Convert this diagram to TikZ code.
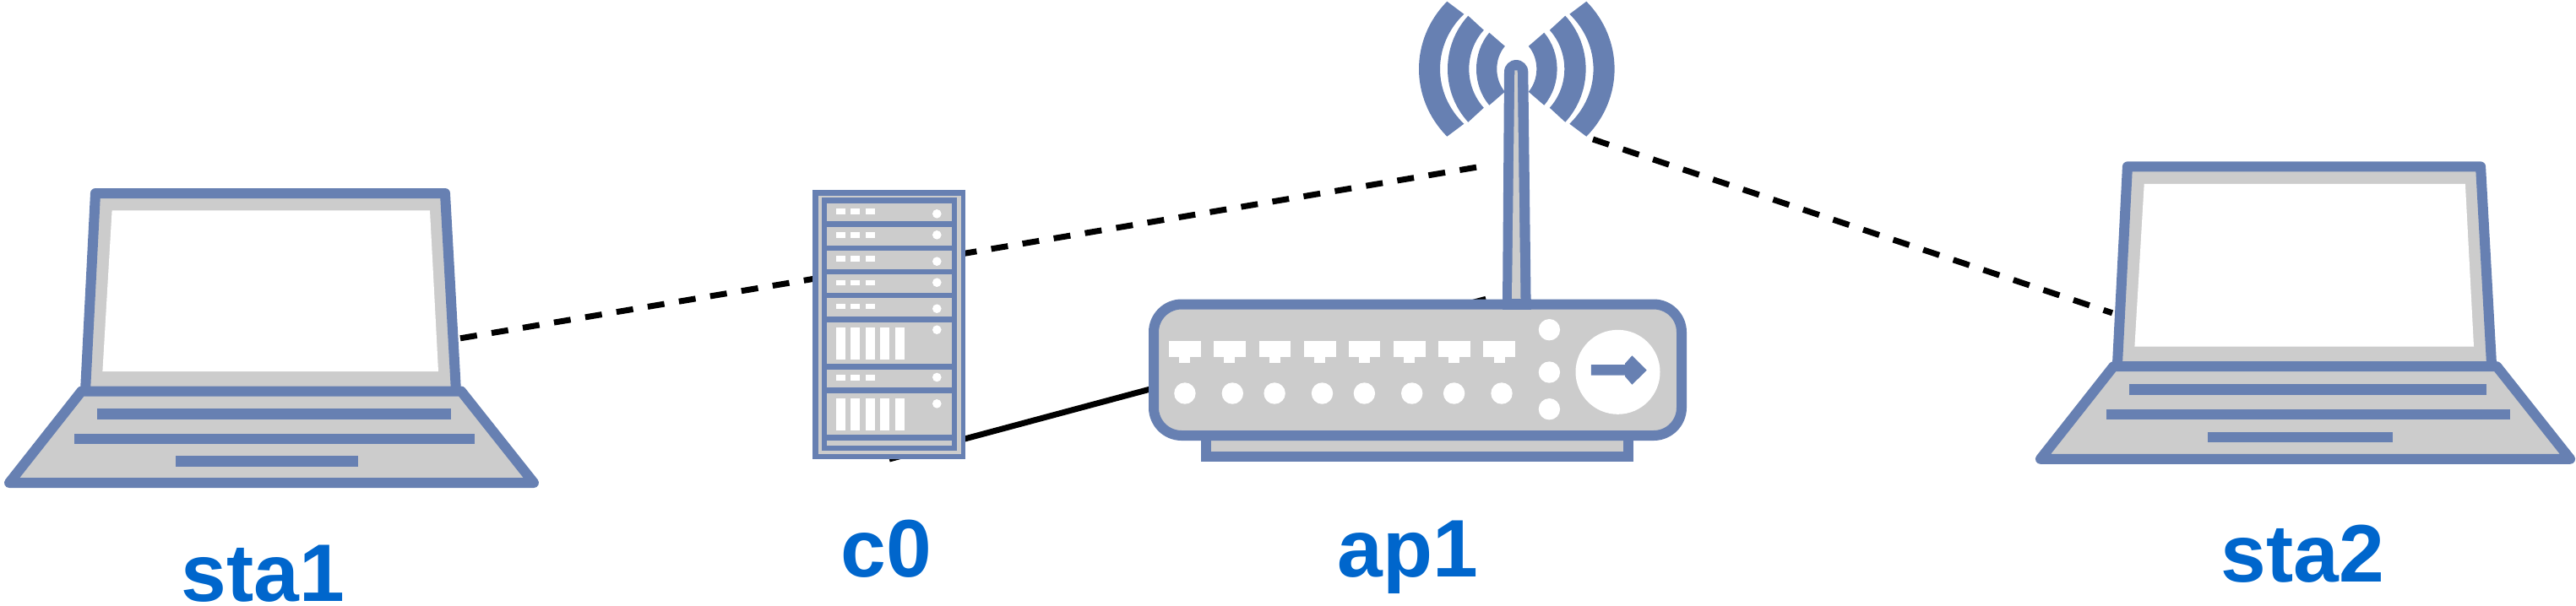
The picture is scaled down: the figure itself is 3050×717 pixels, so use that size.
\documentclass[tikz,border=0pt]{standalone}
\usepackage{fontspec}
\setsansfont{Liberation Sans}
\usetikzlibrary{positioning}
\definecolor{devblue}{HTML}{6780B2}
\definecolor{devgrey}{HTML}{CCCCCC}
\definecolor{namecolor}{HTML}{0066CC}

\tikzset{
	laptop/.pic={
		\draw[shell] (-207,-111.5) -- (207,-111.5) -- (220,123.5) -- (-219,123.5) -- cycle;
		\fill[white] (-187.4,-91.2) -- (189,-91.2) -- (199,99.5) -- (-198.6,99.5) -- cycle;
		\draw[shell] (-223.5,123) -- (226,123) -- (312,231.5) -- (-309,231.5) -- cycle;
		\fill[devblue] (-205,143.5) rectangle (214,156);
		\fill[devblue] (-232,173.5) rectangle (242,185.5);
		\fill[devblue] (-112.4,199.5) rectangle (103.7,212.2);
	},
}

\begin{document}
\begin{tikzpicture}
	[
		x=0.1mm,y=-0.1mm,
		font={\sffamily},
		device/.style={rectangle,inner sep=0,outer sep=0},
		shell/.style={draw=devblue,fill=devgrey,line width=1.2mm,line join=round},
		link/.style={black,line width=0.7mm},
		wifi/.style={link,dash pattern=on 2mm off 1.75mm},
		devname/.style={anchor=base,inner sep=0,text=namecolor,font={\fontsize{27.5}{30}\selectfont\sffamily\bfseries}},
		dot/.style={white},
		panel/.style={devgrey},
	]
	\useasboundingbox (0,0) rectangle (3050,717);

	\node[device,minimum width=45mm,minimum height=23.5mm] (sta1) at (320,340.5) {};
	\node[device,minimum width=18.1mm,minimum height=31.9mm] (c0) at (1052.8,384.5) {};
	\node[device,minimum width=63.75mm,minimum height=16.8mm] (ap1) at (1678.2,438.3) {};
	\node[device,minimum width=45.4mm,minimum height=23.8mm] (sta2) at (2728,310) {};
	\coordinate (antL) at (1755,197);
	\coordinate (antR) at (1886,165);

	% links go first, the devices cover them
	\draw[wifi] (sta1.345) -- (antL);
	\draw[wifi] (antR) -- (sta2.195);
	\draw[link] (c0.south) -- (ap1.46);

	\pic at (sta1) {laptop};
	\pic[scale=1.01] at (sta2) {laptop};

	% rack
	\fill[devblue] (962.3,225) rectangle (1143.3,544);
	\fill[devgrey] (968.7,231.7) rectangle (1137.7,537.7);
	\fill[devblue] (973,234.3) rectangle (1133.3,534.3);
	\foreach \py/\dy in {240.7/253.3,269/278.3,297/309.7,325.3/334.7,353.3/365.7,437.7/447}{
		\fill[panel] (979.3,\py) rectangle +(147.4,21.6);
		\fill[dot] (1109.3,\dy) circle[radius=5.3];
		\foreach \sx in {990,1007.3,1025}
			\fill[dot] (\sx,\py+6.3) rectangle +(11,6.7);
	}
	\foreach \py/\dy in {381.7/390.7,465.7/478.3}{
		\fill[panel] (979.3,\py) rectangle +(147.4,49.5);
		\fill[dot] (1109.3,\dy) circle[radius=5.3];
		\foreach \sx in {990,1007.3,1025,1042.3,1060}
			\fill[dot] (\sx,\py+6) rectangle +(11,38);
	}
	\fill[panel] (979.3,522.3) rectangle (1126.7,528.3);

	% antenna
	\fill[devblue] (1781,85) .. controls (1781,77.2) and (1787.3,71) .. (1795.15,71) .. controls (1803,71) and (1809.3,77.2) .. (1809.3,85) -- (1812.7,366.7) -- (1779,366.7) -- cycle;
	\fill[devgrey] (1793.3,83.3) -- (1796.7,83.3) -- (1800.5,354) -- (1790,354) -- cycle;
	\begin{scope}[shift={(1795.8,81.7)}]
		\foreach \s in {-1,1}
			\foreach \ax/\ay/\cx/\cy/\bx/\by/\dx/\dy in {
				82.5/80/126.9/35/62.5/65/100.2/28.6,
				57.5/63/89.9/27.7/39/46/62.3/20,
				32.5/43/52.9/19/14/27/26.7/12}
				\fill[devblue] (\s*\ax,-\ay) .. controls (\s*\cx,-\cy) and (\s*\cx,\cy) .. (\s*\ax,\ay)
					-- (\s*\bx,\by) .. controls (\s*\dx,\dy) and (\s*\dx,-\dy) .. (\s*\bx,-\by) -- cycle;
	\end{scope}

	% access point
	\draw[shell,line join=miter] (1428,516) rectangle (1928,541);
	\draw[shell,rounded corners=3.3mm] (1366,360.5) rectangle (1991,516);
	\fill[devblue] (1779,354) rectangle (1812.7,366.7);
	\foreach \px in {1383.8,1437.1,1490.5,1543.8,1596.7,1650,1703,1756.3}{
		\fill[dot] (\px,404) rectangle +(37.7,19);
		\fill[dot] (\px+12.3,423) rectangle +(13,6.7);
	}
	\foreach \lx in {1402.9,1459.3,1509.1,1565.5,1615.4,1671.7,1721.6,1778}
		\fill[dot] (\lx,466) circle[radius=12.7];
	\foreach \ly in {390.7,441,484.7}
		\fill[dot] (1834.4,\ly) circle[radius=12.7];
	\fill[dot] (1915.5,440.8) circle[radius=50];
	\fill[devblue] (1883.8,432) -- (1924,432) -- (1924,430.7) -- (1932.4,421.3) -- (1949.7,438.7) -- (1932.4,455.7) -- (1924,446) -- (1924,444.7) -- (1883.8,444.7) -- cycle;

	\node[devname] (sta1name) at (311.5,712) {sta1};
	\node[devname] (c0name) at (1049.7,683) {c0};
	\node[devname] (ap1name) at (1667,683) {ap1};
	\node[devname] (sta2name) at (2726.5,689) {sta2};
\end{tikzpicture}
\end{document}
